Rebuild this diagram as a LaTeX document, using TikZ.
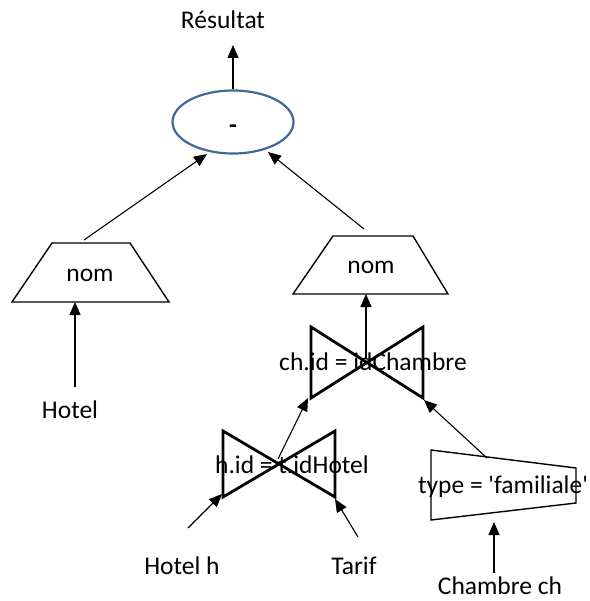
\documentclass[tikz,border=0pt]{standalone}
\usepackage{fontspec}
\setmainfont{Carlito}
\newfontfamily\plainfont{Carlito}
\usetikzlibrary{arrows.meta,shapes.geometric}
\begin{document}
\begin{tikzpicture}[x=1pt,y=-1pt,
  lbl/.style={font=\fontsize{25.5}{30}\selectfont, inner sep=0pt},
  arr/.style={-{Triangle[length=13pt,width=11pt]}, line width=1.1pt},
  tie/.style={line width=2.8pt, line join=miter},
  trap/.style={line width=1.4pt, line join=miter}]
\useasboundingbox (0,0) rectangle (589,601);
\definecolor{ellblue}{HTML}{41679A}

% nodes (texts)
\node[lbl] (res) at (223,20) {Résultat};
\node[ellipse, draw=ellblue, line width=2.2pt, minimum width=121pt, minimum height=63pt, inner sep=0pt] (minus) at (233,122) {};
\node[lbl, font=\fontsize{25.5}{30}\selectfont\bfseries] (minustxt) at (233,129) {-};
\node[lbl] (nom1) at (90,275) {nom};
\node[lbl] (nom2) at (371,267) {nom};
\node[lbl] (hotel) at (70,410) {Hotel};
\node[lbl] (j1) at (373,362) {ch.id = idChambre};
\node[lbl] (j2) at (292,465) {h.id = t.idHotel};
\node[lbl] (sel) at (503,487) {\plainfont type = 'familiale'};
\node[lbl] (hotelh) at (182,566) {Hotel h};
\node[lbl] (tarif) at (354,566) {Tarif};
\node[lbl] (chambre) at (500,586) {Chambre ch};

% shapes
\coordinate (t1a) at (52,243); \coordinate (t1b) at (130,243);
\coordinate (t1c) at (169,302); \coordinate (t1d) at (12,302);
\draw[trap] (t1a) -- (t1b) -- (t1c) -- (t1d) -- cycle;
\coordinate (t2a) at (333,236); \coordinate (t2b) at (413,236);
\coordinate (t2c) at (448,294); \coordinate (t2d) at (293,294);
\draw[trap] (t2a) -- (t2b) -- (t2c) -- (t2d) -- cycle;
\coordinate (b1tl) at (311,327); \coordinate (b1bl) at (311,398);
\coordinate (b1tr) at (423,327); \coordinate (b1br) at (423,398);
\draw[tie] (b1tl) -- (b1br) -- (b1tr) -- (b1bl) -- cycle;
\coordinate (b2tl) at (223,431); \coordinate (b2bl) at (223,497);
\coordinate (b2tr) at (335,431); \coordinate (b2br) at (335,497);
\draw[tie] (b2tl) -- (b2br) -- (b2tr) -- (b2bl) -- cycle;
\coordinate (s1) at (431,450); \coordinate (s2) at (576,468);
\coordinate (s3) at (576,503); \coordinate (s4) at (431,520);
\draw[trap] (s1) -- (s2) -- (s3) -- (s4) -- cycle;

% connector ends
\coordinate (restip) at (233,45);
\coordinate (t1top) at (84,240);
\coordinate (t2top) at (364,229);
\coordinate (mL) at (207,154);
\coordinate (mR) at (268,152);
\coordinate (t1bot) at (75,302);
\coordinate (hotelup) at (75,387);
\coordinate (t2bot) at (366,294);
\coordinate (b1c) at (366,358);
\coordinate (b2c) at (278,459);
\coordinate (b1blt) at (308,398);
\coordinate (b1brt) at (424,400);
\coordinate (seltop) at (487,458);
\coordinate (b2blt) at (222,494);
\coordinate (b2brt) at (335,499);
\coordinate (hh) at (188,528);
\coordinate (tf) at (358,537);
\coordinate (chup) at (494,573);
\coordinate (selbot) at (494,522);

% connectors
\draw[arr] (minus.north) -- (restip);
\draw[arr] (t1top) -- (mL);
\draw[arr] (t2top) -- (mR);
\draw[arr] (hotelup) -- (t1bot);
\draw[arr] (b1c) -- (t2bot);
\draw[arr] (b2c) -- (b1blt);
\draw[arr] (seltop) -- (b1brt);
\draw[arr] (hh) -- (b2blt);
\draw[arr] (tf) -- (b2brt);
\draw[arr] (chup) -- (selbot);
\end{tikzpicture}
\end{document}
